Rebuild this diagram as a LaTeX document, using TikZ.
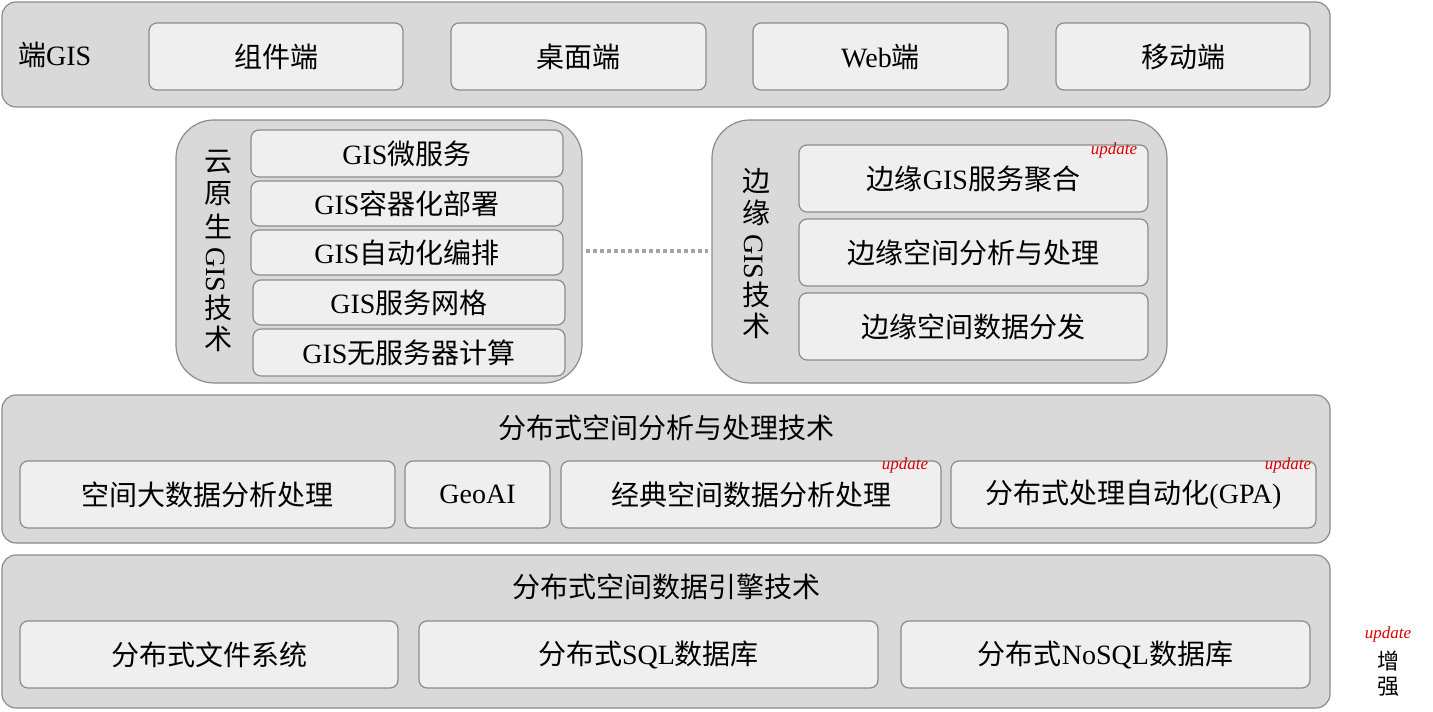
\documentclass[tikz,border=0pt]{standalone}
\usepackage{fontspec}
\setmainfont{Noto Sans CJK SC}
\newfontfamily\latf{Liberation Serif}
\newcommand{\lat}[1]{{\latf #1}}
\definecolor{outerg}{HTML}{D9D9D9}
\definecolor{innerg}{HTML}{EFEFEF}
\definecolor{lineg}{HTML}{8C8C8C}
\tikzset{
 outerbox/.style={draw=lineg,line width=1.2pt,fill=outerg,rounded corners=14pt},
 innerbox/.style={draw=lineg,line width=1.2pt,fill=innerg,rounded corners=8pt},
 lbl/.style={font=\fontsize{28}{30}\selectfont,inner sep=0pt},
 vch/.style={font=\fontsize{28}{30}\selectfont,inner sep=0pt},
 upd/.style={font=\latf\itshape\fontsize{17}{17}\selectfont,text=red!85!black,inner sep=0pt}
}
\begin{document}
\begin{tikzpicture}[x=1pt,y=-1pt]
\useasboundingbox (0,0) rectangle (1433,712);
% row 1
\draw[outerbox] (2,2) rectangle (1330,107);
\node[lbl,anchor=west] (t1) at (18,55) {端\lat{GIS}};
\draw[innerbox] (149,23) rectangle (403,90) node[midway,lbl] (a1) {组件端};
\draw[innerbox] (451,23) rectangle (706,90) node[midway,lbl] (a2) {桌面端};
\draw[innerbox] (753,23) rectangle (1008,90) node[midway,lbl] (a3) {\lat{Web}端};
\draw[innerbox] (1056,23) rectangle (1310,90) node[midway,lbl] (a4) {移动端};
% cloud
\draw[outerbox,rounded corners=38pt] (176,120) rectangle (582,383);
\coordinate (cR) at (582,251);
\node[vch] (c1) at (218,162) {云};
\node[vch] (c2) at (218,194) {原};
\node[vch] (c3) at (218,226) {生};
\node[vch,rotate=-90] (c4) at (216,270) {\lat{GIS}};
\node[vch] (c5) at (218,308) {技};
\node[vch] (c6) at (218,339) {术};
\draw[innerbox] (251,130) rectangle (563,177) node[midway,lbl] {\lat{GIS}微服务};
\draw[innerbox] (251,181) rectangle (563,226) node[midway,lbl] {\lat{GIS}容器化部署};
\draw[innerbox] (251,230) rectangle (563,275) node[midway,lbl] {\lat{GIS}自动化编排};
\draw[innerbox] (253,280) rectangle (565,325) node[midway,lbl] {\lat{GIS}服务网格};
\draw[innerbox] (253,329) rectangle (565,376) node[midway,lbl] {\lat{GIS}无服务器计算};
% edge
\draw[outerbox,rounded corners=38pt] (712,120) rectangle (1167,383);
\coordinate (eL) at (712,251);
\draw[lineg!80,line width=4pt,dash pattern=on 4pt off 3pt] ([xshift=4pt]cR) -- ([xshift=-4pt]eL);
\node[vch] (e1) at (756,181) {边};
\node[vch] (e2) at (756,213) {缘};
\node[vch,rotate=-90] (e3) at (754,257) {\lat{GIS}};
\node[vch] (e4) at (756,295) {技};
\node[vch] (e5) at (756,326) {术};
\draw[innerbox] (799,145) rectangle (1148,212) node[midway,lbl] {边缘\lat{GIS}服务聚合};
\draw[innerbox] (799,219) rectangle (1148,286) node[midway,lbl] {边缘空间分析与处理};
\draw[innerbox] (799,293) rectangle (1148,360) node[midway,lbl] {边缘空间数据分发};
\node[upd] (u1) at (1114,150) {update};
% row 3
\draw[outerbox] (2,395) rectangle (1330,543);
\node[lbl] at (666,428) {分布式空间分析与处理技术};
\draw[innerbox] (20,461) rectangle (395,528) node[midway,lbl] {空间大数据分析处理};
\draw[innerbox] (405,461) rectangle (550,528) node[midway,lbl] {\lat{GeoAI}};
\draw[innerbox] (561,461) rectangle (941,528) node[midway,lbl] {经典空间数据分析处理};
\draw[innerbox] (951,461) rectangle (1316,528) node[midway,lbl] {分布式处理自动化\lat{(GPA)}};
\node[upd] (u2) at (905,465) {update};
\node[upd] (u3) at (1288,465) {update};
% row 4
\draw[outerbox] (2,555) rectangle (1330,708);
\node[lbl] at (666,587) {分布式空间数据引擎技术};
\draw[innerbox] (20,621) rectangle (398,688) node[midway,lbl] {分布式文件系统};
\draw[innerbox] (419,621) rectangle (878,688) node[midway,lbl] {分布式\lat{SQL}数据库};
\draw[innerbox] (901,621) rectangle (1310,688) node[midway,lbl] {分布式\lat{NoSQL}数据库};
% legend
\node[upd] (u4) at (1388,634) {update};
\node[align=center,inner sep=0pt,font=\fontsize{22}{25}\selectfont] (leg) at (1388,674) {增\\强};
\end{tikzpicture}
\end{document}
